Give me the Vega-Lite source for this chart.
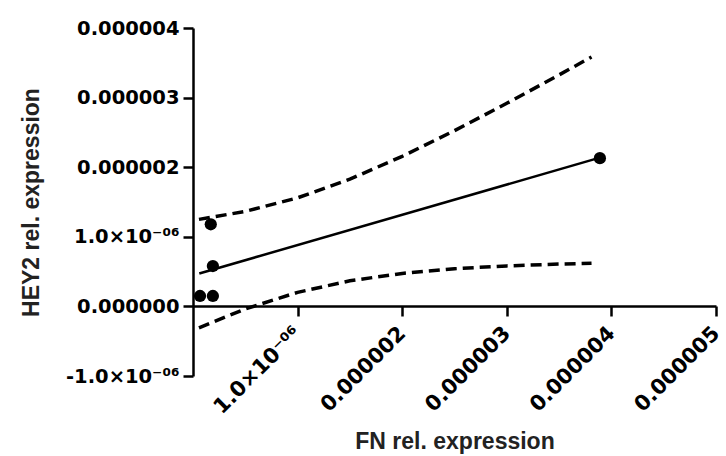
{
  "$schema": "https://vega.github.io/schema/vega-lite/v6.json",
  "autosize": {"type": "none"},
  "width": 523,
  "height": 348,
  "padding": {"left": 193, "top": 28, "right": 10, "bottom": 80},
  "background": "white",
  "config": {
    "view": {"stroke": null},
    "font": "Liberation Sans",
    "axis": {
      "grid": false,
      "domainColor": "black",
      "domainWidth": 2.5,
      "tickColor": "black",
      "tickWidth": 2.5,
      "tickSize": 10,
      "labelFont": "DejaVu Sans",
      "labelFontWeight": "bold",
      "labelFontSize": 19.5,
      "labelColor": "black",
      "titleFont": "Liberation Sans",
      "titleFontWeight": "bold",
      "titleFontSize": 23,
      "titleColor": "#222222"
    }
  },
  "data": {
    "values": [
      {"series": "point", "x": 0.000000067, "y": 0.00000015},
      {"series": "point", "x": 0.00000019, "y": 0.00000015},
      {"series": "point", "x": 0.00000019, "y": 0.00000058},
      {"series": "point", "x": 0.00000017, "y": 0.00000118},
      {"series": "point", "x": 0.00000389, "y": 0.00000213},
      {"series": "fit", "x": 0.00000006, "y": 0.000000473},
      {"series": "fit", "x": 0.00000389, "y": 0.000002137},
      {"series": "upper", "x": 0.000000057, "y": 0.00000125},
      {"series": "upper", "x": 0.0000005, "y": 0.000001365},
      {"series": "upper", "x": 0.000001, "y": 0.00000156},
      {"series": "upper", "x": 0.0000015, "y": 0.000001828},
      {"series": "upper", "x": 0.000002, "y": 0.000002156},
      {"series": "upper", "x": 0.0000025, "y": 0.000002525},
      {"series": "upper", "x": 0.000003, "y": 0.000002918},
      {"series": "upper", "x": 0.0000035, "y": 0.000003326},
      {"series": "upper", "x": 0.00000381, "y": 0.000003584},
      {"series": "lower", "x": 0.000000057, "y": -0.000000307},
      {"series": "lower", "x": 0.0000005, "y": -0.000000037},
      {"series": "lower", "x": 0.000001, "y": 0.000000202},
      {"series": "lower", "x": 0.0000015, "y": 0.000000368},
      {"series": "lower", "x": 0.000002, "y": 0.000000474},
      {"series": "lower", "x": 0.0000025, "y": 0.000000541},
      {"series": "lower", "x": 0.000003, "y": 0.000000582},
      {"series": "lower", "x": 0.0000035, "y": 0.000000608},
      {"series": "lower", "x": 0.00000381, "y": 0.00000062}
    ]
  },
  "encoding": {
    "x": {
      "field": "x",
      "type": "quantitative",
      "scale": {"domain": [0, 0.000005], "nice": false, "zero": false},
      "axis": {
        "title": "FN rel. expression",
        "offset": -70,
        "values": [0.000001, 0.000002, 0.000003, 0.000004, 0.000005],
        "labelExpr": "abs(datum.value - 0.000001) < 1e-10 ? '1.0×10⁻⁰⁶' : format(datum.value, '.6f')",
        "labelFontSize": 21,
        "labelAngle": -45,
        "labelAlign": "right",
        "labelBaseline": "middle",
        "labelPadding": 14,
        "titlePadding": 13
      }
    },
    "y": {
      "field": "y",
      "type": "quantitative",
      "scale": {"domain": [-0.000001, 0.000004], "nice": false, "zero": false},
      "axis": {
        "title": "HEY2 rel. expression",
        "values": [-0.000001, 0, 0.000001, 0.000002, 0.000003, 0.000004],
        "labelExpr": "abs(datum.value - 0.000001) < 1e-10 ? '1.0×10⁻⁰⁶' : abs(datum.value + 0.000001) < 1e-10 ? '-1.0×10⁻⁰⁶' : format(datum.value, '.6f')",
        "labelPadding": 4,
        "titlePadding": 22
      }
    }
  },
  "layer": [
    {
      "transform": [{"filter": "datum.series === 'upper' || datum.series === 'lower'"}],
      "mark": {"type": "line", "color": "black", "strokeWidth": 3.5, "strokeDash": [11, 6]},
      "encoding": {"detail": {"field": "series"}}
    },
    {
      "transform": [{"filter": "datum.series === 'fit'"}],
      "mark": {"type": "line", "color": "black", "strokeWidth": 2.5},
      "encoding": {}
    },
    {
      "transform": [{"filter": "datum.series === 'point'"}],
      "mark": {"type": "point", "filled": true, "shape": "circle", "color": "black", "opacity": 1, "size": 150},
      "encoding": {}
    }
  ]
}
